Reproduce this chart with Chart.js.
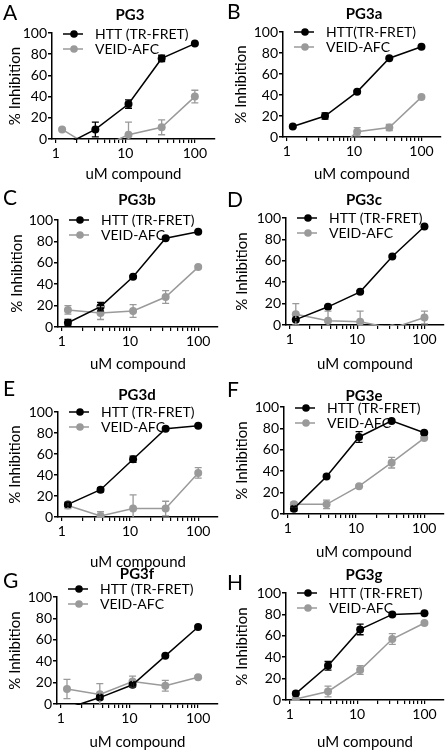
<!DOCTYPE html>
<html>
<head>
<meta charset="utf-8">
<script src="https://cdn.jsdelivr.net/npm/chart.js@4.4.1/dist/chart.umd.min.js"></script>
<style>
  body { margin: 0; background: #fff; width: 448px; height: 750px; position: relative; overflow: hidden; }
  canvas { position: absolute; }
</style>
</head>
<body>
<script>
// dose points (uM), shared by every panel
const doses = [1.23, 3.7, 11.1, 33.3, 100];

const panelLetters = ["A", "B", "C", "D", "E", "F", "G", "H"];
const panelTitles = ["PG3", "PG3a", "PG3b", "PG3c", "PG3d", "PG3e", "PG3f", "PG3g"];
const httLabels = ["HTT (TR-FRET)", "HTT(TR-FRET)", "HTT (TR-FRET)", "HTT (TR-FRET)",
                   "HTT (TR-FRET)", "HTT (TR-FRET)", "HTT (TR-FRET)", "HTT (TR-FRET)"];
const veidLabel = "VEID-AFC";

const httValues = [
  [-7, 9, 33, 76, 90],
  [10, 20, 43, 75, 86],
  [4, 19, 47, 83, 89],
  [5, 17, 31, 64, 92],
  [12, 26, 55, 84, 87],
  [5, 35, 72, 87, 76],
  [-4, 6, 18, 45, 72],
  [6, 32, 66, 80, 81]
];
const httErrors = [
  [0, 7, 4, 3, 1],
  [1, 3, 1, 1, 1],
  [3, 4, 1, 1, 1],
  [1, 1, 1, 1, 1],
  [2, 2, 3, 1, 1],
  [2, 1, 5, 1, 1],
  [0, 2, 2, 1, 1],
  [1, 4, 5, 1, 1]
];
const veidValues = [
  [9, -10, 4, 11, 40],
  [-20, -22, 5, 9, 38],
  [16, 13, 15, 28, 56],
  [10, 4, 3, -3, 7],
  [11, 1, 8, 8, 42],
  [9, 9, 26, 48, 71],
  [14, 9, 21, 17, 25],
  [1, 8, 28, 57, 72]
];
const veidErrors = [
  [1, 0, 12, 7, 6],
  [0, 0, 4, 3, 1],
  [4, 6, 6, 6, 1],
  [10, 9, 10, 0, 6],
  [3, 4, 13, 7, 5],
  [2, 4, 1, 5, 1],
  [9, 10, 5, 5, 1],
  [1, 5, 4, 5, 1]
];

const yTicks = [0, 20, 40, 60, 80, 100];
const xTickLabels = [1, 10, 100];
const xMinorTicks = [2, 3, 4, 5, 6, 7, 8, 9, 20, 30, 40, 50, 60, 70, 80, 90];

// page geometry of each panel (canvas origin + plot box inside it)
const boxes = [
  { x: 0,   y: 0,   h: 183, left: 52, top: 33, bottom: 139, right: 215, titleX: 130, titleY: 15, letterY: 13, legendY: 34, yTitleX: 15 },
  { x: 224, y: 0,   h: 183, left: 59, top: 32, bottom: 137, right: 217, titleX: 140, titleY: 14, letterY: 12, legendY: 32, yTitleX: 17 },
  { x: 0,   y: 185, h: 188, left: 58, top: 35, bottom: 142, right: 218, titleX: 137, titleY: 15, letterY: 13, legendY: 35, yTitleX: 17 },
  { x: 224, y: 185, h: 188, left: 62, top: 33, bottom: 140, right: 222, titleX: 140, titleY: 15, letterY: 15, legendY: 33, yTitleX: 18 },
  { x: 0,   y: 370, h: 201, left: 58, top: 42, bottom: 147, right: 218, titleX: 137, titleY: 25, letterY: 19, legendY: 42, yTitleX: 15 },
  { x: 224, y: 370, h: 191, left: 60, top: 37, bottom: 144, right: 220, titleX: 140, titleY: 26, letterY: 20, legendY: 38, yTitleX: 18 },
  { x: 0,   y: 560, h: 191, left: 57, top: 37, bottom: 144, right: 218, titleX: 137, titleY: 14, letterY: 21, legendY: 29, yTitleX: 15 },
  { x: 224, y: 560, h: 191, left: 62, top: 33, bottom: 140, right: 222, titleX: 140, titleY: 15, letterY: 23, legendY: 33, yTitleX: 18 }
];

const BLACK = "#000000";
const GREY = "#9a9a9a";
const FONT = "Lato, 'Open Sans', sans-serif";

// error bars, drawn through the scales
const errorBars = {
  id: "errorBars",
  afterDatasetsDraw(chart) {
    const ctx = chart.ctx;
    const area = chart.chartArea;
    const xs = chart.scales.x, ys = chart.scales.y;
    ctx.save();
    ctx.beginPath();
    ctx.rect(area.left - 10, area.top - 10, area.right - area.left + 20, area.bottom - area.top + 10);
    ctx.clip();
    for (let d = chart.data.datasets.length - 1; d >= 0; d--) {
      const ds = chart.data.datasets[d];
      ctx.strokeStyle = ds.borderColor;
      ctx.lineWidth = 1.3;
      ds.data.forEach((p, i) => {
        const e = ds.errors[i];
        if (!e) return;
        const px = xs.getPixelForValue(p.x);
        const hi = ys.getPixelForValue(p.y + e);
        const lo = ys.getPixelForValue(p.y - e);
        ctx.beginPath();
        ctx.moveTo(px, hi); ctx.lineTo(px, lo);
        ctx.moveTo(px - 3.5, hi); ctx.lineTo(px + 3.5, hi);
        ctx.moveTo(px - 3.5, lo); ctx.lineTo(px + 3.5, lo);
        ctx.stroke();
      });
    }
    ctx.restore();
  }
};

// panel letter, bold title and the inset legend
const panelText = {
  id: "panelText",
  afterDraw(chart, args, opts) {
    const ctx = chart.ctx;
    const area = chart.chartArea;
    ctx.save();
    ctx.fillStyle = BLACK;
    ctx.textBaseline = "middle";
    ctx.font = "21px " + FONT;
    ctx.textAlign = "left";
    ctx.fillText(opts.letter, 3, opts.letterY);
    ctx.font = "bold 15px " + FONT;
    ctx.textAlign = "center";
    ctx.fillText(opts.title, opts.titleX, opts.titleY);

    ctx.font = "14px " + FONT;
    ctx.textAlign = "left";
    chart.data.datasets.forEach((ds, i) => {
      const y = opts.legendY + i * 15;
      const x0 = area.left + 11;
      ctx.strokeStyle = ds.borderColor;
      ctx.fillStyle = ds.borderColor;
      ctx.lineWidth = 1.5;
      ctx.beginPath();
      ctx.moveTo(x0, y); ctx.lineTo(x0 + 20, y);
      ctx.stroke();
      ctx.beginPath();
      ctx.arc(x0 + 11, y, 3.8, 0, Math.PI * 2);
      ctx.fill();
      ctx.fillStyle = BLACK;
      ctx.fillText(ds.label, x0 + 32, y + 0.5);
    });
    ctx.restore();
  }
};

function makeSeries(label, color, values, errors) {
  return {
    label: label,
    data: doses.map((d, i) => ({ x: d, y: values[i] })),
    errors: errors,
    borderColor: color,
    backgroundColor: color,
    pointBackgroundColor: color,
    pointBorderColor: color,
    pointBorderWidth: 0,
    pointRadius: 4,
    pointHoverRadius: 4,
    borderWidth: 1.5,
    tension: 0,
    clip: { left: 10, top: 10, right: 10, bottom: 1 }
  };
}

boxes.forEach((b, p) => {
  const canvas = document.createElement("canvas");
  canvas.style.left = b.x + "px";
  canvas.style.top = b.y + "px";
  canvas.style.width = "224px";
  canvas.style.height = b.h + "px";
  canvas.width = 224;
  canvas.height = b.h;
  document.body.appendChild(canvas);

  new Chart(canvas, {
    type: "line",
    data: {
      datasets: [
        makeSeries(httLabels[p], BLACK, httValues[p], httErrors[p]),
        makeSeries(veidLabel, GREY, veidValues[p], veidErrors[p])
      ]
    },
    options: {
      responsive: false,
      animation: false,
      events: [],
      layout: { padding: { top: b.top, right: 224 - b.right, left: 0, bottom: 0 } },
      plugins: {
        legend: { display: false },
        tooltip: { enabled: false },
        panelText: {
          letter: panelLetters[p], title: panelTitles[p],
          titleX: b.titleX, titleY: b.titleY, letterY: b.letterY, legendY: b.legendY
        }
      },
      scales: {
        x: {
          type: "logarithmic",
          min: 0.88,
          max: 195,
          afterFit: s => { s.height = b.h - b.bottom; },
          afterBuildTicks: s => {
            s.ticks = xTickLabels.concat(xMinorTicks).sort((a, c) => a - c)
              .map(v => ({ value: v, major: xTickLabels.includes(v) }));
          },
          ticks: {
            autoSkip: false,
            maxRotation: 0,
            padding: 2,
            color: BLACK,
            font: { family: FONT, size: 14 },
            callback: v => xTickLabels.includes(v) ? String(v) : ""
          },
          grid: { display: true, drawOnChartArea: false, drawTicks: true, tickLength: 4, color: BLACK, lineWidth: 1.2 },
          border: { display: true, color: BLACK, width: 1.5 },
          title: { display: true, text: "uM compound", color: BLACK, font: { family: FONT, size: 15 }, padding: { top: 0, bottom: 0 } }
        },
        y: {
          min: 0,
          max: 100,
          afterFit: s => { s.width = b.left; },
          afterBuildTicks: s => { s.ticks = yTicks.map(v => ({ value: v })); },
          ticks: { padding: 1, color: BLACK, font: { family: FONT, size: 14 } },
          grid: { display: true, drawOnChartArea: false, drawTicks: true, tickLength: 4, color: BLACK, lineWidth: 1.5 },
          border: { display: true, color: BLACK, width: 1.5 },
          title: { display: true, text: "% Inhibition", color: BLACK, font: { family: FONT, size: 15 }, padding: { top: b.yTitleX - 9, bottom: 0 } }
        }
      }
    },
    plugins: [errorBars, panelText]
  });
});
</script>
</body>
</html>
